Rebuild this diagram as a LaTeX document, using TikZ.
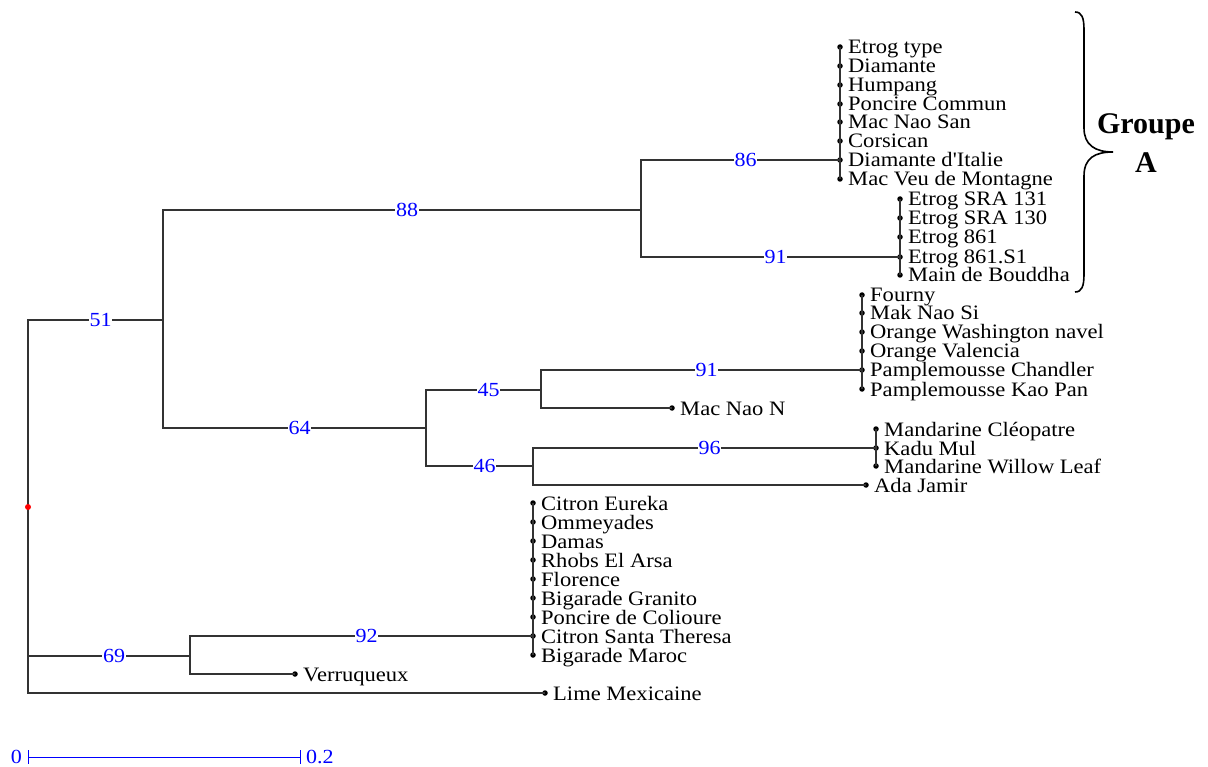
\documentclass[tikz,border=0pt]{standalone}
\usepackage{fontspec}
\setmainfont{Liberation Serif}
\newfontfamily\leaffont[FakeStretch=1.1]{Liberation Serif}
\begin{document}
\begin{tikzpicture}[x=1pt,y=-1pt,
  br/.style={draw=black!80, line width=1.2pt},
  leaf/.style={anchor=base west, inner sep=0pt, font=\leaffont\fontsize{20.5}{20.5}\selectfont},
  boot/.style={text=blue, fill=white, inner sep=0.6pt, font=\leaffont\fontsize{20}{20}\selectfont, xshift=5pt},
  tipdot/.style={circle, fill=black, inner sep=0pt, minimum size=5.5pt},
  grp/.style={font=\bfseries\fontsize{30}{30}\selectfont, inner sep=0pt}]
\useasboundingbox (0,0) rectangle (1208,767);
\newcommand\leafnode[4]{\node[tipdot] (#1) at (#2,#3) {}; \node[leaf] (#1t) at ([xshift=8pt,yshift=-7pt]#1.center) {#4};}
% internal nodes
\coordinate (R) at (28,507);
\coordinate (A) at (163,320);
\coordinate (B) at (190,656);
\coordinate (C) at (641,210);
\coordinate (D) at (426,428);
\coordinate (E) at (541,390);
\coordinate (F) at (533,466);
% cluster 1
\leafnode{a1}{840}{47}{Etrog type}
\leafnode{a2}{840}{66}{Diamante}
\leafnode{a3}{840}{85}{Humpang}
\leafnode{a4}{840}{104}{Poncire Commun}
\leafnode{a5}{840}{122}{Mac Nao San}
\leafnode{a6}{840}{141}{Corsican}
\leafnode{a7}{840}{160}{Diamante d{\char"0027}Italie}
\leafnode{a8}{840}{179}{Mac Veu de Montagne}
% cluster 2
\leafnode{b1}{900}{199}{Etrog SRA 131}
\leafnode{b2}{900}{218}{Etrog SRA 130}
\leafnode{b3}{900}{237}{Etrog 861}
\leafnode{b4}{900}{257}{Etrog 861.S1}
\leafnode{b5}{900}{275}{Main de Bouddha}
% cluster 3
\leafnode{c1}{862}{295}{Fourny}
\leafnode{c2}{862}{313}{Mak Nao Si}
\leafnode{c3}{862}{332}{Orange Washington navel}
\leafnode{c4}{862}{351}{Orange Valencia}
\leafnode{c5}{862}{370}{Pamplemousse Chandler}
\leafnode{c6}{862}{389}{Pamplemousse Kao Pan}
\leafnode{mnn}{672}{408}{Mac Nao N}
% cluster 4
\leafnode{d1}{876}{429}{Mandarine Cléopatre}
\leafnode{d2}{876}{448}{Kadu Mul}
\leafnode{d3}{876}{466}{Mandarine Willow Leaf}
\leafnode{ada}{866}{485}{Ada Jamir}
% cluster 5
\leafnode{e1}{533}{503}{Citron Eureka}
\leafnode{e2}{533}{522}{Ommeyades}
\leafnode{e3}{533}{541}{Damas}
\leafnode{e4}{533}{560}{Rhobs El Arsa}
\leafnode{e5}{533}{579}{Florence}
\leafnode{e6}{533}{598}{Bigarade Granito}
\leafnode{e7}{533}{617}{Poncire de Colioure}
\leafnode{e8}{533}{636}{Citron Santa Theresa}
\leafnode{e9}{533}{655}{Bigarade Maroc}
\leafnode{ver}{295}{674}{Verruqueux}
\leafnode{lime}{545}{693}{Lime Mexicaine}
% cluster verticals
\draw[br] (a1.center) -- (a8.center);
\draw[br] (b1.center) -- (b5.center);
\draw[br] (c1.center) -- (c6.center);
\draw[br] (d1.center) -- (d3.center);
\draw[br] (e1.center) -- (e9.center);
% branches
\draw[br] (R) |- node[boot, pos=0.75] {51} (A);
\draw[br] (R) |- node[boot, pos=0.75] {69} (B);
\draw[br] (R) |- (lime.center);
\draw[br] (A) |- node[boot, pos=0.75] {88} (C);
\draw[br] (A) |- node[boot, pos=0.75] {64} (D);
\draw[br] (C) |- node[boot, pos=0.75] {86} (a7.center);
\draw[br] (C) |- node[boot, pos=0.75] {91} (b4.center);
\draw[br] (D) |- node[boot, pos=0.75] {45} (E);
\draw[br] (D) |- node[boot, pos=0.75] {46} (F);
\draw[br] (E) |- node[boot, pos=0.75] {91} (c5.center);
\draw[br] (E) |- (mnn.center);
\draw[br] (F) |- node[boot, pos=0.75] {96} (d2.center);
\draw[br] (F) |- (ada.center);
\draw[br] (B) |- node[boot, pos=0.75] {92} (e8.center);
\draw[br] (B) |- (ver.center);
\fill[red] (R) circle (3pt);
% scale bar
\coordinate (s0) at (28,757);
\coordinate (s1) at (300,757);
\draw[blue, line width=1pt] (s0) -- (s1);
\draw[blue, line width=1pt] ([yshift=7pt]s0) -- ([yshift=-7pt]s0);
\draw[blue, line width=1pt] ([yshift=7pt]s1) -- ([yshift=-7pt]s1);
\node[text=blue, font=\leaffont\fontsize{20}{20}\selectfont, anchor=east, inner sep=0pt] (sl0) at ([xshift=-6pt]s0) {0};
\node[text=blue, font=\leaffont\fontsize{20}{20}\selectfont, anchor=west, inner sep=0pt] (sl1) at ([xshift=6pt]s1) {0.2};
% brace
\draw[line width=1.6pt] (1075,12) .. controls (1082,12) and (1084,18) .. (1084,30) -- (1084,128)
  .. controls (1084,145) and (1095,152) .. (1113,152)
  .. controls (1095,152) and (1084,158) .. (1084,176) -- (1084,274)
  .. controls (1084,286) and (1082,292) .. (1075,292);
\node[grp] (g1) at (1146,127) {Groupe};
\node[grp] (g2) at (1146,163) {A};
\end{tikzpicture}
\end{document}
